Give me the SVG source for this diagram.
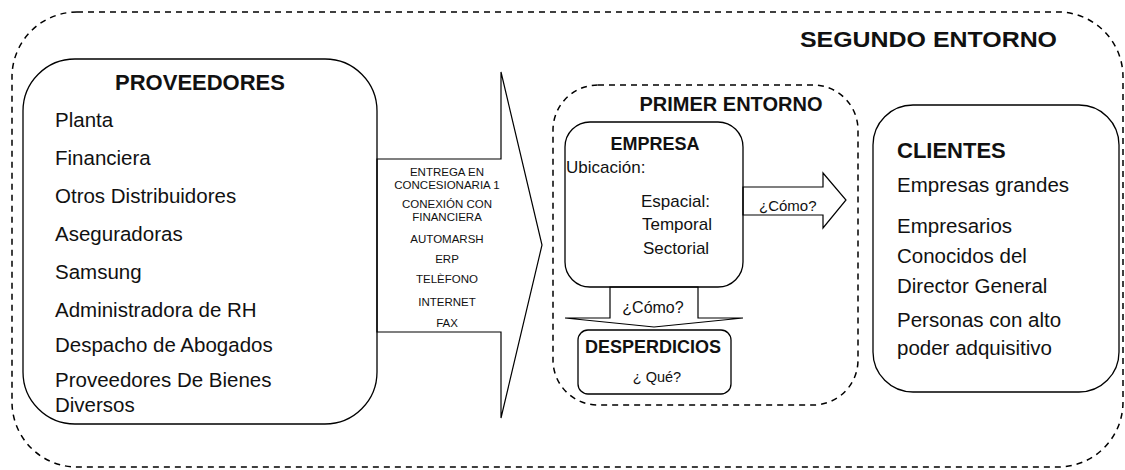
<svg xmlns="http://www.w3.org/2000/svg" width="1125" height="470" viewBox="0 0 1125 470">
<style>
.box{fill:none;stroke:#000;stroke-width:1.3}
.dash{fill:none;stroke:#000;stroke-width:1.5;stroke-dasharray:6,5}
.arr{fill:#fff;stroke:#000;stroke-width:1.2;stroke-linejoin:miter}
text{font-family:"Liberation Sans",Arial,sans-serif;fill:#111}
.b{font-weight:bold}
.it{font-size:20.5px}
.sm{font-size:11.5px;text-anchor:middle}
.e{font-size:17px}
</style>
<rect width="1125" height="470" fill="#fff"/>
<g id="segundo-entorno">
<rect class="dash" x="12" y="12" width="1111" height="455" rx="65" ry="65"/>
<text class="b" x="800" y="47" font-size="22" textLength="257" lengthAdjust="spacingAndGlyphs">SEGUNDO ENTORNO</text>
</g>
<g id="primer-entorno">
<rect class="dash" x="553" y="85" width="305" height="320" rx="45" ry="45"/>
<text class="b" x="731" y="111" font-size="20" text-anchor="middle">PRIMER ENTORNO</text>
</g>
<g id="connectors">
<polygon class="arr" points="377,159 501,159 501,72 542,245 501,418 501,332 377,332"/>
<polygon class="arr" points="743,187 823,187 823,173 846,200 823,228 823,215 743,215"/>
<polygon class="arr" points="610,287 698,287 698,318 743,318 654,327 565,318 610,318"/>
<g class="lbl">
<text class="sm" x="447" y="176">ENTREGA EN</text>
<text class="sm" x="447" y="189">CONCESIONARIA 1</text>
<text class="sm" x="447" y="208">CONEXIÓN CON</text>
<text class="sm" x="447" y="221">FINANCIERA</text>
<text class="sm" x="447" y="243">AUTOMARSH</text>
<text class="sm" x="447" y="263">ERP</text>
<text class="sm" x="447" y="283">TELÈFONO</text>
<text class="sm" x="447" y="306">INTERNET</text>
<text class="sm" x="447" y="327">FAX</text>
<text x="759" y="211" font-size="15">¿Cómo?</text>
<text x="653" y="313" font-size="16" text-anchor="middle">¿Cómo?</text>
</g>
</g>
<g id="proveedores">
<rect class="box" x="23" y="59" width="354" height="365" rx="52" ry="52" fill="#fff"/>
<text class="b" x="200" y="90" font-size="22" text-anchor="middle">PROVEEDORES</text>
<text class="it" x="55" y="127">Planta</text>
<text class="it" x="55" y="165">Financiera</text>
<text class="it" x="55" y="203">Otros Distribuidores</text>
<text class="it" x="55" y="241">Aseguradoras</text>
<text class="it" x="55" y="279">Samsung</text>
<text class="it" x="55" y="317">Administradora de RH</text>
<text class="it" x="55" y="352">Despacho de Abogados</text>
<text class="it" x="55" y="387">Proveedores De Bienes</text>
<text class="it" x="55" y="412">Diversos</text>
</g>
<g id="empresa">
<rect class="box" x="565" y="122" width="178" height="165" rx="25" ry="25" fill="#fff"/>
<text class="b" x="655" y="150" font-size="18" text-anchor="middle">EMPRESA</text>
<text class="e" x="566" y="173">Ubicación:</text>
<text class="e" x="641" y="207">Espacial:</text>
<text class="e" x="642" y="230">Temporal</text>
<text class="e" x="643" y="254">Sectorial</text>
</g>
<g id="desperdicios">
<rect class="box" x="578" y="330" width="153" height="64" rx="10" ry="10" fill="#fff"/>
<text class="b" x="653" y="353" font-size="18" text-anchor="middle">DESPERDICIOS</text>
<text x="657" y="382" font-size="14.5" text-anchor="middle">¿ Qué?</text>
</g>
<g id="clientes">
<rect class="box" x="873" y="105" width="246" height="287" rx="40" ry="40"/>
<text class="b" x="897" y="158" font-size="22">CLIENTES</text>
<text class="it" x="897" y="192">Empresas grandes</text>
<text class="it" x="897" y="233">Empresarios</text>
<text class="it" x="897" y="263">Conocidos del</text>
<text class="it" x="897" y="293">Director General</text>
<text class="it" x="897" y="327">Personas con alto</text>
<text class="it" x="897" y="355">poder adquisitivo</text>
</g>
</svg>
